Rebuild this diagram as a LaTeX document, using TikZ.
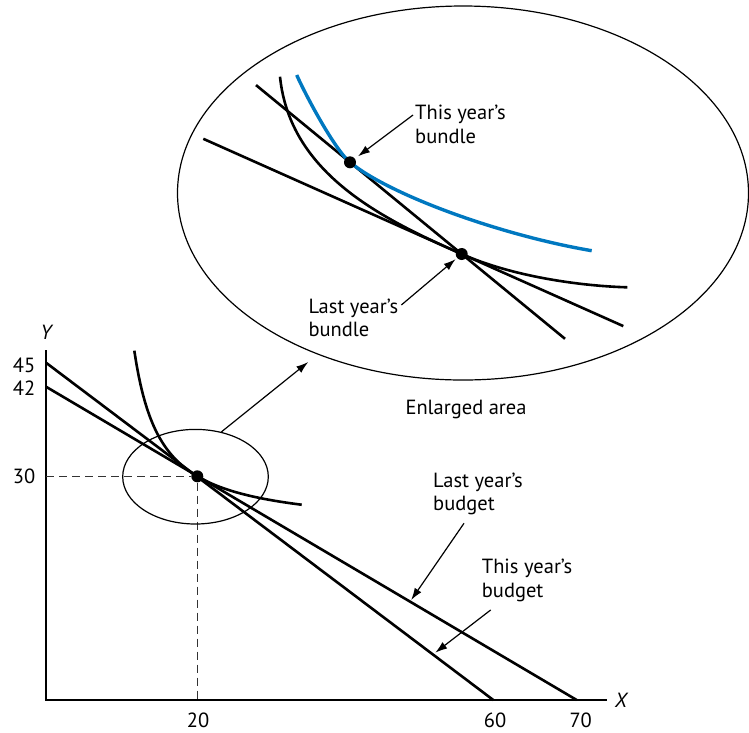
\documentclass[tikz,border=0pt]{standalone}
\usepackage{fontspec}
\setmainfont{PT Sans}
\usetikzlibrary{arrows.meta,positioning,shapes.geometric}
\definecolor{icblue}{RGB}{0,120,192}

\begin{document}
\begin{tikzpicture}[
  x=1pt, y=-1pt,
  every node/.style={font=\fontsize{20.5}{23.5}\selectfont, inner sep=0pt},
  axisline/.style={line width=1.5pt},
  budget/.style={line width=2.6pt},
  icurve/.style={line width=2.6pt},
  thinline/.style={line width=1.2pt},
  pointer/.style={line width=1.2pt,-{Latex[length=12pt,width=8pt]}},
  guide/.style={line width=1.5pt,dash pattern=on 8pt off 5pt,black!80},
  bundle/.style={circle,fill=black,minimum size=12pt},
  lbl/.style={align=left,anchor=north west},
  zoomring/.style={draw,ellipse,thinline},
]
  \useasboundingbox (0,0) rectangle (749,732);

  % Axes
  \coordinate (O) at (46,700);
  \coordinate (ytop) at (46,350);
  \coordinate (xend) at (606.7,700);
  \draw[axisline] (ytop) -- (O) -- (xend);
  \node (ylab) at (47,332) {\textit{Y}};
  \node (xlab) at (621.7,700) {\textit{X}};
  \node (t45) at (24,365) {45};
  \node (t42) at (24,388) {42};
  \node (t30) at (24,476.5) {30};
  \node (t20) at (198,720) {20};
  \node (t60) at (495,720) {60};
  \node (t70) at (580.7,720) {70};

  % Budget lines
  \coordinate (y45) at (46,362.7);
  \coordinate (y42) at (46,386.7);
  \coordinate (x60) at (493.3,700);
  \coordinate (x70) at (576.7,700);
  \draw[budget] (y45) -- (x60) coordinate[pos=0.865] (onthis);
  \draw[budget] (y42) -- (x70) coordinate[pos=0.686] (onlast);

  % Indifference curve and bundle
  \draw[icurve] plot[domain=134.3:301.7,samples=80] (\x,{529.1-4729/(\x-107.8)});
  \node[bundle] (P) at (197.3,476.3) {};
  \draw[guide] (O |- P) -- (P) -- (O -| P);

  % Enlarged area
  \node[zoomring,minimum width=145.6pt,minimum height=94.6pt] (zoomarea) at (195.5,476.7) {};
  \node[zoomring,minimum width=571pt,minimum height=374pt] (enlarged) at (463,193) {};
  \draw[pointer,shorten >=12pt] (zoomarea.60) -- (enlarged.228);
  \node (enl) at (466,409) {Enlarged area};

  % Inside the enlarged area
  \coordinate (a1) at (203.3,138.8);
  \coordinate (a2) at (623.3,326.1);
  \coordinate (b1) at (256,85.1);
  \coordinate (b2) at (565,338.8);
  \draw[budget] (a1) -- (a2);
  \draw[budget] (b1) -- (b2);
  \draw[icurve] (280,76.7) .. controls (290,175) and (385,220) .. (461.7,254)
    .. controls (511.7,276.3) and (580,286) .. (627.3,287.3);
  \draw[icurve,icblue,line width=3.4pt] (296.7,75) .. controls (306,96) and (335,150) .. (350,162.3)
    .. controls (390,195.1) and (500,235) .. (591.7,250.7);
  \node[bundle] (thisb) at (350,162.3) {};
  \node[bundle] (lastb) at (461.7,254) {};

  % Labels
  \node[lbl] (thislbl) at (415,105.2) {This year’s\\bundle};
  \node[lbl] (lastlbl) at (308.3,298.5) {Last year’s\\bundle};
  \node[lbl] (lastbud) at (433,472.5) {Last year’s\\budget};
  \node[lbl] (thisbud) at (481.7,559.2) {This year’s\\budget};
  \draw[pointer,shorten >=10pt] ([xshift=-2pt,yshift=-9.8pt]thislbl.north west) -- (thisb.center);
  \draw[pointer,shorten >=8pt] ([xshift=3pt,yshift=-6.5pt]lastlbl.north east) -- (lastb.center);
  \draw[pointer,shorten >=2pt] ([xshift=31pt,yshift=-8pt]lastbud.south west) -- (onlast);
  \draw[pointer,shorten >=3pt] ([xshift=9pt,yshift=-8pt]thisbud.south west) -- (onthis);
\end{tikzpicture}
\end{document}
